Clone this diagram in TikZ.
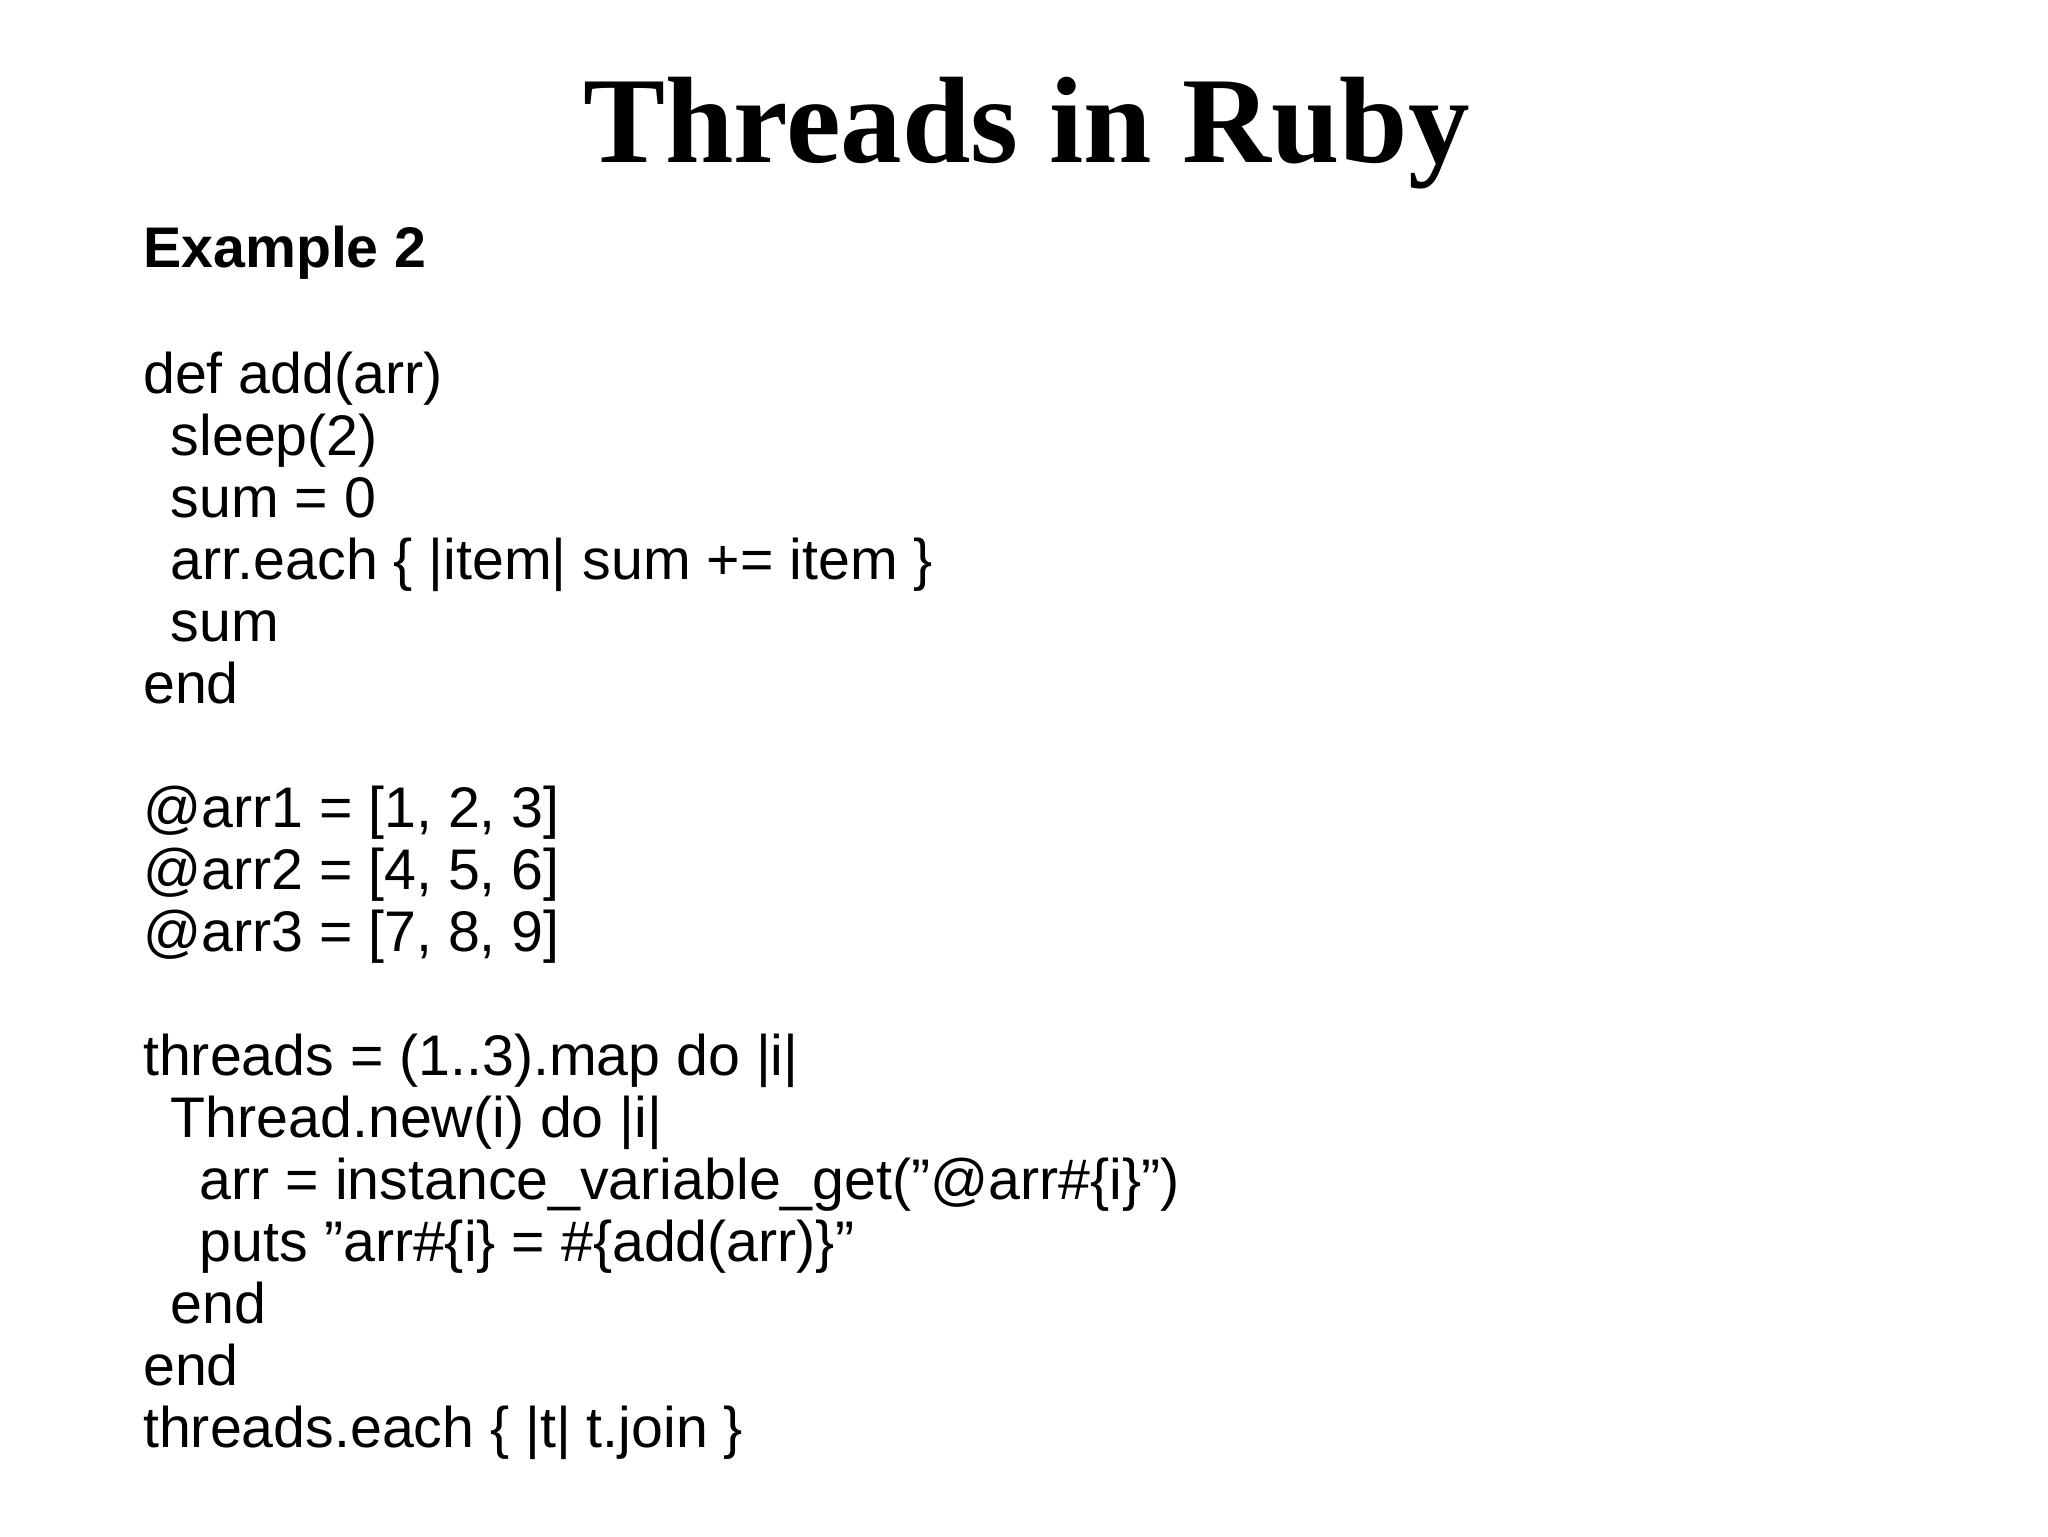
\documentclass[tikz,border=0pt]{standalone}
\usepackage{fontspec}
\setmainfont{Liberation Sans}
\newfontfamily\titlefont{Liberation Serif}
\begin{document}
\begin{tikzpicture}[x=0.013196cm,y=-0.013196cm,
  code/.style={anchor=base west,inner sep=0pt,font=\fontsize{16.3}{19}\selectfont}]
\useasboundingbox (0,0) rectangle (1552,1164);
\fill[white] (0,0) rectangle (1552,1164);
\node[anchor=base,inner sep=0pt,font=\titlefont\bfseries\fontsize{35}{40}\selectfont] (title) at (778,123) {Threads in Ruby};
\node[code,font=\bfseries\fontsize{16.3}{19}\selectfont] (ex) at (108,203) {Example 2};
\node[code] (l1) at (108,298) {def add(arr)};
\node[code] (l2) at (129,345) {sleep(2)};
\node[code] (l3) at (129,392) {sum = 0};
\node[code] (l4) at (129,439) {arr.each \{ |item| sum += item \}};
\node[code] (l5) at (129,486) {sum};
\node[code] (l6) at (108,533) {end};
\node[code] (l7) at (108,627) {@arr1 = [1, 2, 3]};
\node[code] (l8) at (108,674) {@arr2 = [4, 5, 6]};
\node[code] (l9) at (108,721) {@arr3 = [7, 8, 9]};
\node[code] (l10) at (108,815) {threads = (1..3).map do |i|};
\node[code] (l11) at (129,862) {Thread.new(i) do |i|};
\node[code] (l12) at (151,909) {arr = instance\_variable\_get("@arr\#\{i\}")};
\node[code] (l13) at (151,956) {puts "arr\#\{i\} = \#\{add(arr)\}"};
\node[code] (l14) at (129,1003) {end};
\node[code] (l15) at (108,1050) {end};
\node[code] (l16) at (108,1097) {threads.each \{ |t| t.join \}};
\end{tikzpicture}
\end{document}
